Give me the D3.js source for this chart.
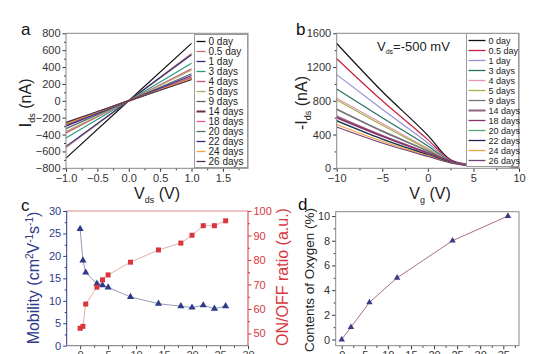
<!DOCTYPE html>
<html>
<head>
<meta charset="utf-8">
<script src="https://cdn.jsdelivr.net/npm/d3@7"></script>
<style>
body{margin:0;background:#fff}
svg{display:block;font-family:"Liberation Sans",Arial,sans-serif}
</style>
</head>
<body>
<svg id="canvas" width="539" height="354"></svg>
<script>
// data
var days = ["0 day","0.5 day","1 day","3 days","4 days","5 days","9 days","14 days","18 days","20 days","22 days","24 days","26 days"];
var colorsA = ["#111111","#c8706e","#2b2f7a","#2a9a80","#d0507e","#a8a866","#5f5f72","#6e2d40","#e0589a","#4f6f50","#30307f","#f0a444","#4e2f50"];
var colorsB = ["#111111","#c8203c","#9494d6","#24705f","#e494b4","#a2b244","#72727e","#93627e","#8e2f70","#52a675","#22224e","#f0a040","#744274"];

// panel a : I_ds at V_ds = -1, 0, 1 V
var vdsPts = [-1, 0, 1];
var idsA = [
  [-680, 0, 680], [-555, 0, 560], [-540, 0, 545], [-440, 0, 445],
  [-380, 0, 380], [-365, 0, 365], [-330, 0, 320], [-280, 0, 270],
  [-290, 0, 280], [-265, 0, 260], [-300, 0, 300], [-270, 0, 265], [-255, 0, 250]
];

// panel b : -I_ds vs V_g
var vgPts = [-10, -5, 0, 2.5, 5, 10];
var idsB = [
  [1480, 910, 390, 100, 30, 20],
  [1300, 800, 340, 95, 30, 20],
  [1110, 700, 300, 90, 30, 20],
  [940, 600, 265, 85, 30, 20],
  [830, 530, 235, 80, 30, 20],
  [810, 510, 225, 80, 30, 20],
  [700, 440, 205, 80, 35, 20],
  [620, 390, 185, 80, 35, 22],
  [600, 380, 180, 85, 40, 25],
  [570, 350, 165, 75, 35, 22],
  [560, 345, 160, 70, 30, 20],
  [520, 320, 150, 65, 30, 20],
  [490, 300, 140, 65, 30, 20]
];

// panel c
var ageDays = [0, 0.5, 1, 3, 4, 5, 9, 14, 18, 20, 22, 24, 26];
var mobility = [26, 19, 16.3, 13.8, 13.45, 13, 10.85, 9.35, 8.8, 8.5, 9, 8.25, 8.8];
var onoff = [52.1, 52.9, 62, 68.9, 71.9, 73.9, 79.1, 84.1, 86.9, 90.1, 94, 94, 96];

// panel d
var oxyX = [0, 2, 6, 12, 24, 36];
var oxyY = [0, 1, 3, 5, 8, 10];

var svg = d3.select("#canvas");
var FS = "11px";

function styleAxis(g, col) {
  g.select(".domain").remove();
  g.selectAll("line").attr("stroke", col);
  g.selectAll("text").attr("fill", col).style("font-size", FS).style("font-family", "Liberation Sans, Arial");
}

function addAxes(x, y, majX, minX, majY, minY, fmtX, fmtY, colX, colY) {
  var b = y.range()[0], l = x.range()[0];
  svg.append("g").attr("transform", "translate(0," + b + ")")
    .call(d3.axisBottom(x).tickValues(minX).tickSize(2).tickFormat(""))
    .call(styleAxis, colX);
  svg.append("g").attr("transform", "translate(0," + b + ")")
    .call(d3.axisBottom(x).tickValues(majX).tickSize(3.5).tickPadding(2).tickFormat(fmtX))
    .call(styleAxis, colX);
  svg.append("g").attr("transform", "translate(" + l + ",0)")
    .call(d3.axisLeft(y).tickValues(minY).tickSize(2).tickFormat(""))
    .call(styleAxis, colY);
  svg.append("g").attr("transform", "translate(" + l + ",0)")
    .call(d3.axisLeft(y).tickValues(majY).tickSize(3.5).tickPadding(2).tickFormat(fmtY))
    .call(styleAxis, colY);
}

function frame(x, y, col) {
  svg.append("rect")
    .attr("x", x.range()[0]).attr("y", y.range()[1])
    .attr("width", x.range()[1] - x.range()[0])
    .attr("height", y.range()[0] - y.range()[1])
    .attr("fill", "none").attr("stroke", col).attr("stroke-width", 1);
}

function panelLabel(t, px, py) {
  svg.append("text").attr("x", px).attr("y", py).text(t)
    .style("font-size", "17px").attr("fill", "#111");
}

function legend(x0, y0, w, names, cols, step, sw, fs) {
  var g = svg.append("g");
  g.append("rect").attr("x", x0).attr("y", y0).attr("width", w).attr("height", step * names.length + 3)
    .attr("fill", "#fff").attr("stroke", "#999");
  names.forEach(function (n, i) {
    var yy = y0 + 7 + i * step;
    g.append("line").attr("x1", x0 + 2).attr("x2", x0 + 2 + sw).attr("y1", yy).attr("y2", yy)
      .attr("stroke", cols[i]).attr("stroke-width", i == 7 ? 2 : 1.3);
    g.append("text").attr("x", x0 + 5 + sw).attr("y", yy + 3.5).text(n)
      .style("font-size", fs).attr("fill", "#222");
  });
}

function range(a, b, s) { return d3.range(a, b + s / 2, s); }

// ---------- panel a ----------
var xa = d3.scaleLinear().domain([-1, 1.9]).range([66, 248]);
var ya = d3.scaleLinear().domain([-800, 800]).range([168.3, 33.3]);
addAxes(xa, ya, range(-1, 1.5, 0.5), range(-0.75, 1.75, 0.5), range(-800, 800, 200), range(-700, 700, 200),
  d3.format(".1f"), d3.format("d"), "#333", "#333");
var lineA = d3.line().x(function (d) { return xa(d[0]); }).y(function (d) { return ya(d[1]); });
idsA.forEach(function (s, i) {
  svg.append("path").datum(vdsPts.map(function (v, j) { return [v, s[j]]; }))
    .attr("d", lineA).attr("fill", "none").attr("stroke", colorsA[i])
    .attr("stroke-width", i == 7 ? 2.2 : 1.2);
});
frame(xa, ya, "#888");
legend(194.5, 34.5, 53, days, colorsA, 10, 9, "10px");
panelLabel("a", 21, 35);

var ta = svg.append("text").attr("transform", "translate(31,103) rotate(-90)")
  .attr("text-anchor", "middle").attr("fill", "#222").style("font-size", "16px");
ta.append("tspan").text("I").style("font-size", "17px");
ta.append("tspan").text("ds").style("font-size", "9px").attr("dy", 4);
ta.append("tspan").text(" (nA)").attr("dy", -4);

var tx = svg.append("text").attr("x", 157).attr("y", 199).attr("text-anchor", "middle")
  .attr("fill", "#222").style("font-size", "16px");
tx.append("tspan").text("V");
tx.append("tspan").text("ds").style("font-size", "9px").attr("dy", 4);
tx.append("tspan").text(" (V)").attr("dy", -4);

// ---------- panel b ----------
var xb = d3.scaleLinear().domain([-10, 10]).range([336.7, 519]);
var yb = d3.scaleLinear().domain([0, 1600]).range([168.3, 33.3]);
addAxes(xb, yb, range(-10, 10, 5), range(-7.5, 7.5, 5), range(0, 1600, 400), range(200, 1400, 400),
  d3.format("d"), d3.format("d"), "#333", "#333");
var lineB = d3.line().curve(d3.curveMonotoneX)
  .x(function (d) { return xb(d[0]); }).y(function (d) { return yb(d[1]); });
idsB.forEach(function (s, i) {
  svg.append("path").datum(vgPts.map(function (v, j) { return [v, s[j]]; }))
    .attr("d", lineB).attr("fill", "none").attr("stroke", colorsB[i])
    .attr("stroke-width", (i == 6 || i == 8) ? 1.8 : 1.2);
});
frame(xb, yb, "#888");
legend(466.5, 33.5, 52, days, colorsB, 10, 17, "9px");
panelLabel("b", 296, 35);

var tb = svg.append("text").attr("x", 377).attr("y", 51).attr("fill", "#222").style("font-size", "13px");
tb.append("tspan").text("V");
tb.append("tspan").text("ds").style("font-size", "7px").attr("dy", 3);
tb.append("tspan").text("=-500 mV").attr("dy", -3);

var tyb = svg.append("text").attr("transform", "translate(307,103) rotate(-90)")
  .attr("text-anchor", "middle").attr("fill", "#222").style("font-size", "16px");
tyb.append("tspan").text("-I");
tyb.append("tspan").text("ds").style("font-size", "9px").attr("dy", 4);
tyb.append("tspan").text(" (nA)").attr("dy", -4);

var txb = svg.append("text").attr("x", 430).attr("y", 199).attr("text-anchor", "middle")
  .attr("fill", "#222").style("font-size", "16px");
txb.append("tspan").text("V");
txb.append("tspan").text("g").style("font-size", "9px").attr("dy", 4);
txb.append("tspan").text(" (V)").attr("dy", -4);

// ---------- panel c ----------
var navy = "#2e3a8a", red = "#d8363c";
var xc = d3.scaleLinear().domain([-2.4, 30]).range([66.7, 248]);
var ycL = d3.scaleLinear().domain([0, 30]).range([345.7, 211]);
var ycR = d3.scaleLinear().domain([45, 100]).range([345.7, 211]);
addAxes(xc, ycL, range(0, 30, 5), range(2.5, 27.5, 5), range(0, 30, 5), range(2.5, 27.5, 5),
  d3.format("d"), d3.format("d"), "#444", navy);
svg.append("g").attr("transform", "translate(248,0)")
  .call(d3.axisRight(ycR).tickValues(range(50, 100, 10)).tickSize(3.5).tickPadding(2))
  .call(styleAxis, red);
svg.append("g").attr("transform", "translate(248,0)")
  .call(d3.axisRight(ycR).tickValues(range(55, 95, 10)).tickSize(2).tickFormat(""))
  .call(styleAxis, red);
svg.append("line").attr("x1", 66.7).attr("x2", 248).attr("y1", 211).attr("y2", 211).attr("stroke", "#d88");
svg.append("line").attr("x1", 248).attr("x2", 248).attr("y1", 211).attr("y2", 345.7).attr("stroke", red);
svg.append("line").attr("x1", 66.7).attr("x2", 66.7).attr("y1", 211).attr("y2", 345.7).attr("stroke", navy);
svg.append("line").attr("x1", 66.7).attr("x2", 248).attr("y1", 345.7).attr("y2", 345.7).attr("stroke", "#777");

var mobPts = ageDays.map(function (d, i) { return [xc(d), ycL(mobility[i])]; });
var onPts = ageDays.map(function (d, i) { return [xc(d), ycR(onoff[i])]; });
svg.append("path").attr("d", d3.line()(mobPts)).attr("fill", "none").attr("stroke", "#8a8fa8").attr("stroke-width", 0.9);
svg.append("path").attr("d", d3.line()(onPts)).attr("fill", "none").attr("stroke", "#e0a6a6").attr("stroke-width", 0.9);
var tri = d3.symbol().type(d3.symbolTriangle).size(22);
svg.selectAll(".mob").data(mobPts).enter().append("path")
  .attr("transform", function (p) { return "translate(" + p[0] + "," + p[1] + ")"; })
  .attr("d", tri).attr("fill", navy);
svg.selectAll(".onf").data(onPts).enter().append("rect")
  .attr("x", function (p) { return p[0] - 2.5; }).attr("y", function (p) { return p[1] - 2.5; })
  .attr("width", 5).attr("height", 5).attr("fill", red);

panelLabel("c", 21, 211);
var tc = svg.append("text").attr("transform", "translate(39,278) rotate(-90)")
  .attr("text-anchor", "middle").attr("fill", navy).style("font-size", "16px");
tc.append("tspan").text("Mobility (cm");
tc.append("tspan").text("2").style("font-size", "10px").attr("dy", -6);
tc.append("tspan").text("V").attr("dy", 6);
tc.append("tspan").text("-1").style("font-size", "10px").attr("dy", -6);
tc.append("tspan").text("s").attr("dy", 6);
tc.append("tspan").text("-1").style("font-size", "10px").attr("dy", -6);
tc.append("tspan").text(")").attr("dy", 6);
svg.append("text").attr("transform", "translate(288,277) rotate(-90)")
  .attr("text-anchor", "middle").attr("fill", red).style("font-size", "16px")
  .text("ON/OFF ratio (a.u.)");

// ---------- panel d ----------
var xd = d3.scaleLinear().domain([-1.3, 38.4]).range([335.7, 519]);
var yd = d3.scaleLinear().domain([-0.5, 10.35]).range([345.7, 211.7]);
addAxes(xd, yd, range(0, 35, 5), range(2.5, 37.5, 5), range(0, 10, 2), range(1, 9, 2),
  d3.format("d"), d3.format("d"), "#333", "#333");
frame(xd, yd, "#888");
var oxPts = oxyX.map(function (d, i) { return [xd(d), yd(oxyY[i])]; });
svg.append("path").attr("d", d3.line()(oxPts)).attr("fill", "none").attr("stroke", "#a87088").attr("stroke-width", 1);
svg.selectAll(".oxy").data(oxPts).enter().append("path")
  .attr("transform", function (p) { return "translate(" + p[0] + "," + p[1] + ")"; })
  .attr("d", d3.symbol().type(d3.symbolTriangle).size(18)).attr("fill", "#3a3a88");
panelLabel("d", 298, 210);
svg.append("text").attr("transform", "translate(314,280) rotate(-90)")
  .attr("text-anchor", "middle").attr("fill", "#222").style("font-size", "13.5px")
  .text("Contents of Oxygen (%)");
</script>
</body>
</html>
